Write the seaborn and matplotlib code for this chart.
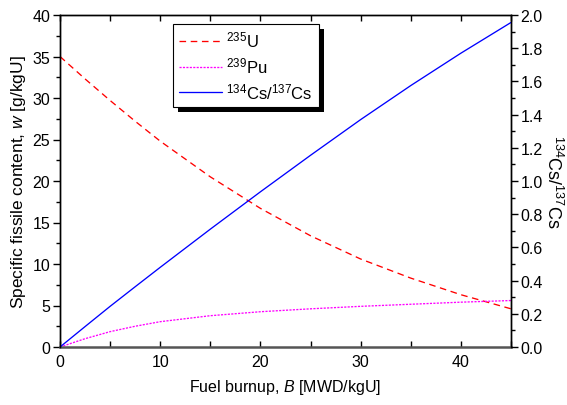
import numpy as np
import pandas as pd
import matplotlib
matplotlib.use("Agg")
import matplotlib.pyplot as plt
import seaborn as sns
from matplotlib.ticker import MultipleLocator
from matplotlib.patches import Rectangle

# ---- data ----
burnup = [0, 2.5, 5, 7.5, 10, 15, 20, 25, 30, 35, 40, 45]
u235 = [35.0, 32.3, 29.7, 27.2, 24.8, 20.5, 16.7, 13.4, 10.6, 8.3, 6.3, 4.6]
pu239 = [0.0, 1.0, 1.85, 2.5, 3.05, 3.77, 4.25, 4.6, 4.9, 5.15, 5.4, 5.6]
cs_ratio = [0.0, 0.123, 0.245, 0.363, 0.48, 0.71, 0.935, 1.155, 1.37, 1.575, 1.77, 1.955]

labels = ["$^{235}$U", "$^{239}$Pu", "$^{134}$Cs/$^{137}$Cs"]
colors = ["#ff0000", "#ff00ff", "#0000ff"]

df = pd.DataFrame({"B": burnup, "U": u235, "Pu": pu239, "Cs": cs_ratio})

sns.set_style("white")
plt.rcParams["font.family"] = ["Liberation Sans", "DejaVu Sans"]
plt.rcParams["mathtext.fontset"] = "custom"
plt.rcParams["mathtext.rm"] = "Liberation Sans"
plt.rcParams["mathtext.it"] = "Liberation Sans:italic"
plt.rcParams["mathtext.bf"] = "Liberation Sans:bold"
for k in ("text.color", "axes.labelcolor", "xtick.color", "ytick.color"):
    plt.rcParams[k] = "black"

fig = plt.figure(figsize=(5.67, 4.06), dpi=100)
ax = fig.add_axes([60 / 567, 1 - 348 / 406, 451 / 567, 332 / 406])
ax2 = ax.twinx()

sns.lineplot(data=df, x="B", y="U", ax=ax, color=colors[0], lw=0.95,
             label=labels[0], legend=False)
ax.lines[-1].set_dashes([5, 3.5])
sns.lineplot(data=df, x="B", y="Pu", ax=ax, color=colors[1], lw=0.95,
             label=labels[1], legend=False)
ax.lines[-1].set_dashes([1.6, 1.0])
sns.lineplot(data=df, x="B", y="Cs", ax=ax2, color=colors[2], lw=0.95,
             label=labels[2], legend=False)

ax.set_xlim(0, 45)
ax.set_ylim(0, 40)
ax2.set_ylim(0, 2.0)

ax.xaxis.set_major_locator(MultipleLocator(10))
ax.xaxis.set_minor_locator(MultipleLocator(5))
ax.yaxis.set_major_locator(MultipleLocator(5))
ax.yaxis.set_minor_locator(MultipleLocator(2.5))
ax2.yaxis.set_major_locator(MultipleLocator(0.2))
ax2.yaxis.set_minor_locator(MultipleLocator(0.1))
ax2.yaxis.set_major_formatter(matplotlib.ticker.FormatStrFormatter("%.1f"))

ax.tick_params(axis="x", which="both", direction="in", top=True, bottom=True,
               length=4, width=1, labelsize=11.5, colors="black", pad=5)
ax.tick_params(axis="y", which="major", direction="out", length=5, width=1,
               labelsize=11.5, pad=2, colors="black")
ax.tick_params(axis="y", which="minor", direction="out", length=3, width=1, left=True)
ax2.tick_params(axis="y", which="major", direction="out", length=5, width=1,
                labelsize=11.5, pad=2, colors="black")
ax2.tick_params(axis="y", which="minor", direction="out", length=3, width=1, right=True)
ax2.tick_params(axis="x", which="both", top=False, bottom=False)

for a in (ax, ax2):
    for s in a.spines.values():
        s.set_color("black")
        s.set_linewidth(1.0)
ax.spines["bottom"].set_color("#555555")
ax.spines["bottom"].set_linewidth(1.8)
ax2.spines["bottom"].set_visible(False)

ax.set_xlabel("Fuel burnup, $\\it{B}$ [MWD/kgU]", fontsize=11.5, labelpad=6)
ax.set_ylabel("Specific fissile content, $\\it{w}$ [g/kgU]", fontsize=12.5, labelpad=3)
ax2.set_ylabel("$^{134}$Cs/$^{137}$Cs", fontsize=13, rotation=270)
ax2.yaxis.set_label_coords(1.115, 0.5)

h1, lb1 = ax.get_legend_handles_labels()
h2, lb2 = ax2.get_legend_handles_labels()
leg = ax2.legend(h1 + h2, lb1 + lb2, loc="upper left",
                 bbox_to_anchor=(173 / 567, 1 - 25 / 406), bbox_transform=fig.transFigure,
                 fontsize=12, frameon=True, fancybox=False, edgecolor="black",
                 framealpha=1, handlelength=2.6, handletextpad=0.25,
                 labelspacing=0.35, borderpad=0.35, borderaxespad=0)
leg.get_frame().set_linewidth(0.8)
leg.set_zorder(10)

fig.canvas.draw()
bb = leg.get_window_extent().transformed(fig.transFigure.inverted())
shadow = Rectangle((bb.x0 + 5 / 567, bb.y0 - 5 / 406), bb.width, bb.height,
                   transform=fig.transFigure, facecolor="black", edgecolor="none",
                   zorder=9)
ax2.add_artist(shadow)
shadow.set_clip_on(False)

fig.savefig("out.png", dpi=100)
